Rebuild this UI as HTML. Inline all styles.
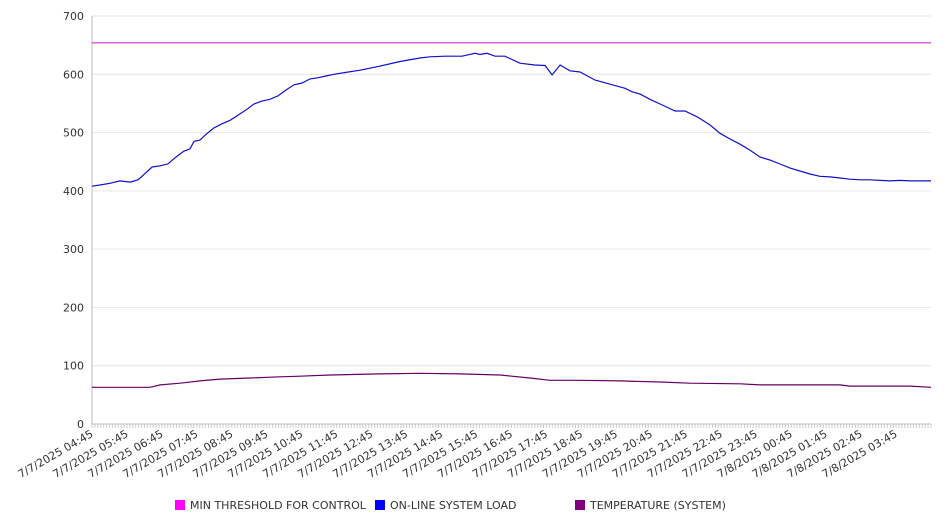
<!DOCTYPE html>
<html><head><meta charset="utf-8"><style>
body{margin:0;background:#fff;font-family:"DejaVu Sans","Liberation Sans",sans-serif;}
svg text{font-family:"DejaVu Sans","Liberation Sans",sans-serif;fill:#333;}
</style></head><body>
<svg id="chart" width="946" height="526" xmlns="http://www.w3.org/2000/svg"></svg>
<script>
const xLabels=["7/7/2025 04:45","7/7/2025 05:45","7/7/2025 06:45","7/7/2025 07:45","7/7/2025 08:45","7/7/2025 09:45","7/7/2025 10:45","7/7/2025 11:45","7/7/2025 12:45","7/7/2025 13:45","7/7/2025 14:45","7/7/2025 15:45","7/7/2025 16:45","7/7/2025 17:45","7/7/2025 18:45","7/7/2025 19:45","7/7/2025 20:45","7/7/2025 21:45","7/7/2025 22:45","7/7/2025 23:45","7/8/2025 00:45","7/8/2025 01:45","7/8/2025 02:45","7/8/2025 03:45"];
const yTicks=[0,100,200,300,400,500,600,700];
const thresholdValue=654;
const loadHours=[0,.23,.51,.80,1.09,1.32,1.54,1.72,1.95,2.17,2.40,2.63,2.80,2.92,3.09,3.26,3.49,3.72,3.95,4.18,4.41,4.63,4.86,5.09,5.32,5.55,5.78,6.01,6.24,6.46,6.69,6.92,7.24,7.67,8.24,8.81,9.38,9.67,10.10,10.58,10.96,11.10,11.30,11.53,11.81,12.24,12.67,12.96,13.16,13.39,13.67,13.96,14.39,14.82,15.25,15.45,15.68,15.96,16.25,16.68,16.96,17.31,17.68,17.96,18.25,18.54,18.82,19.11,19.39,19.68,19.97,20.25,20.54,20.82,21.11,21.40,21.68,21.97,22.25,22.54,22.83,23.11,23.40,24];
const loadValues=[408,410,413,417,415,419,431,441,443,446,458,468,472,485,487,497,508,515,521,530,539,549,554,557,563,573,582,585,592,594,597,600,603,607,614,622,628,630,631,631,636,634,636,631,631,619,616,615,599,616,606,604,590,583,576,570,566,557,549,537,537,527,513,499,489,480,470,458,453,446,439,434,429,425,424,422,420,419,419,418,417,418,417,417];
const tempHours=[0,1.66,1.95,2.52,3.09,3.66,4.52,5.38,5.95,6.81,8.24,9.38,10.53,11.67,12.53,13.10,13.96,15.10,16.25,17.11,18.54,19.11,21.40,21.68,23.40,24];
const tempValues=[63,63,67,70,74,77,79,81,82,84,86,87,86,84,79,75,75,74,72,70,69,67,67,65,65,63];
const svg=document.getElementById('chart');
const NS='http://www.w3.org/2000/svg';
const X0=92,X1=931,Y0=424,Y1=16;
const xs=h=>X0+h/24*(X1-X0);
const ys=v=>Y0-v/700*(Y0-Y1);
function mk(tag,attrs,parent){const e=document.createElementNS(NS,tag);for(const k in attrs)e.setAttribute(k,attrs[k]);(parent||svg).appendChild(e);return e;}
yTicks.forEach(v=>{
  const g=mk('line',{x1:X0,x2:X1,y1:ys(v),y2:ys(v),stroke:v===0?'#bbb':'#e6e6e6','stroke-width':1});
  
  
  const t=mk('text',{x:84,y:ys(v)+4,'text-anchor':'end','font-size':11});
  t.textContent=v;
  
  
});
const ax=mk('line',{x1:X0,x2:X0,y1:Y1,y2:Y0,stroke:'#bbb'});


for(let m=0;m<=24*60;m+=5){
  const tk=mk('line',{x1:xs(m/60),x2:xs(m/60),y1:Y0,y2:Y0+4,stroke:'#ccc'});
  
  
}
xLabels.forEach((l,i)=>{
  const x=xs(i)+2,y=Y0+12;
  const t=mk('text',{x:x,y:y,'text-anchor':'end','font-size':11,transform:`rotate(-30 ${x} ${y})`});
  t.textContent=l;
  
  
});
const th=mk('line',{x1:X0,x2:X1,y1:ys(thresholdValue),y2:ys(thresholdValue),stroke:'#cc33cc','stroke-width':1.2});


const lp=mk('path',{d:loadHours.map((h,i)=>(i?'L':'M')+xs(h).toFixed(1)+' '+ys(loadValues[i]).toFixed(1)).join(''),fill:'none',stroke:'#1010cc','stroke-width':1.2});


const tp=mk('path',{d:tempHours.map((h,i)=>(i?'L':'M')+xs(h).toFixed(1)+' '+ys(tempValues[i]).toFixed(1)).join(''),fill:'none',stroke:'#660066','stroke-width':1.2});


const legend=[["MIN THRESHOLD FOR CONTROL","#ff00ff",175],["ON-LINE SYSTEM LOAD","#0000ff",375],["TEMPERATURE (SYSTEM)","#800080",575]];
legend.forEach(([n,c,x])=>{
  const g=mk('g',{});
  
  
  mk('rect',{x:x,y:500,width:10,height:10,fill:c},g);
  const t=mk('text',{x:x+15,y:509,'font-size':11},g);
  t.textContent=n;
});
</script>
</body></html>
